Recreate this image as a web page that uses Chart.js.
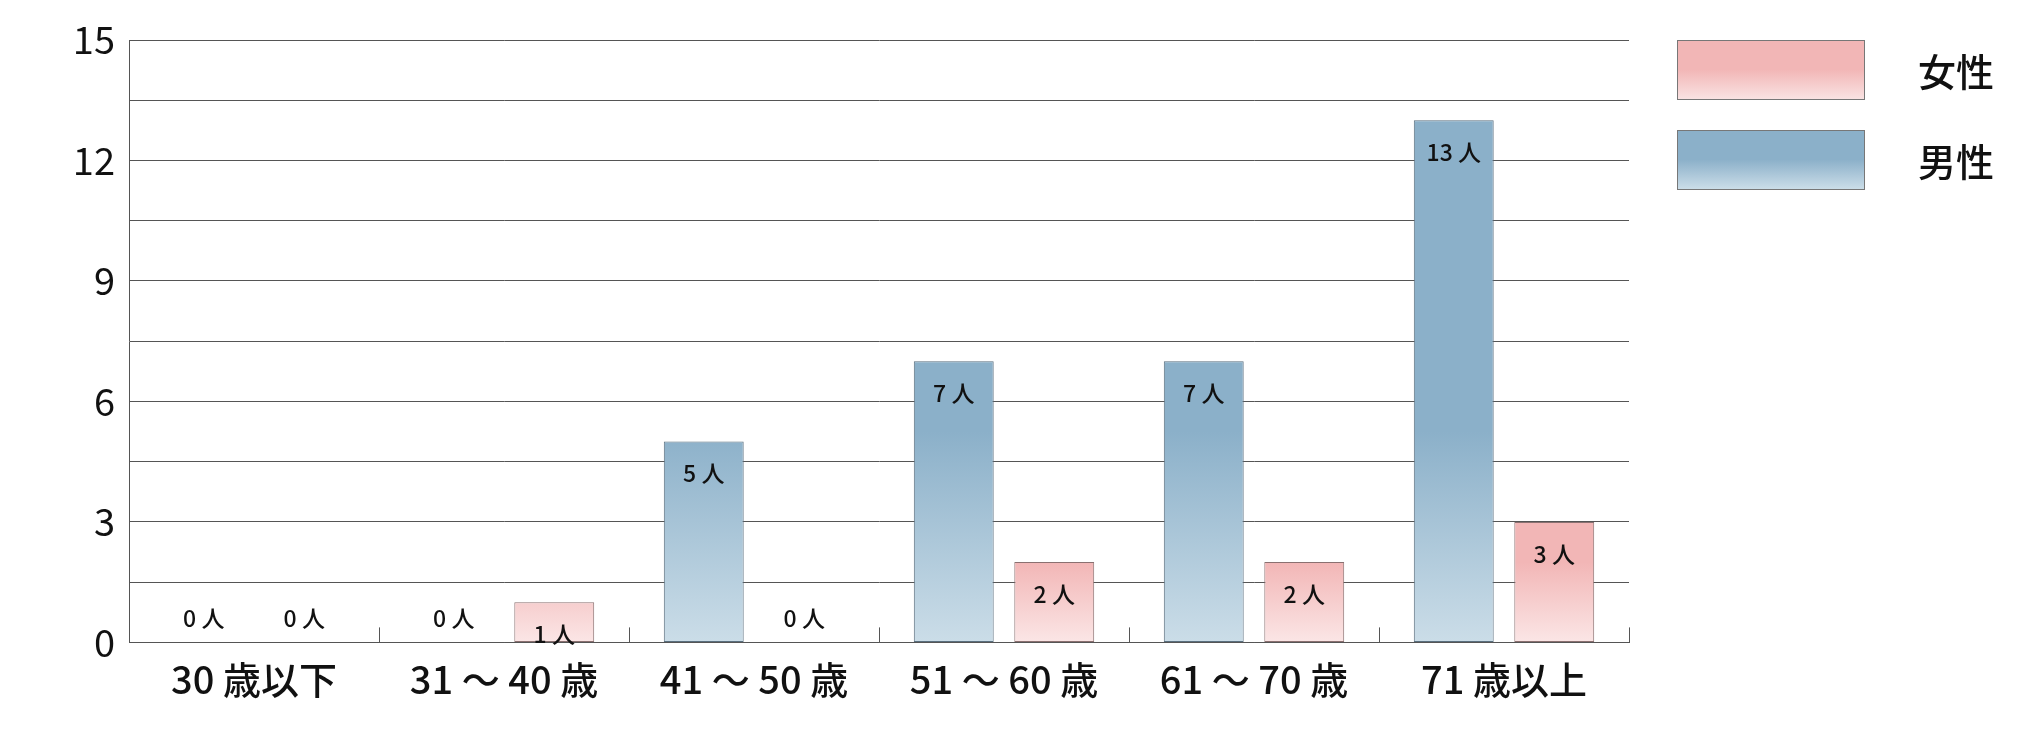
<!DOCTYPE html>
<html><head><meta charset="utf-8">
<script src="https://cdn.jsdelivr.net/npm/chart.js@4"></script>
<style>html,body{margin:0;background:#fff}#w{width:2020px;height:730px}</style></head>
<body><div id="w"><canvas id="c"></canvas></div>
<script>
const categories = ['30 歳以下','31 ～ 40 歳','41 ～ 50 歳','51 ～ 60 歳','61 ～ 70 歳','71 歳以上'];
const male = [0,0,5,7,7,13];
const female = [0,1,0,2,2,3];
const seriesNames = ['男性','女性'];
const yTicks = [0,3,6,9,12,15];
const FONT = '"Noto Sans CJK JP", "Noto Sans", sans-serif';

function grad(ctx, area, top, bottom){
  const g = ctx.createLinearGradient(0, area.top, 0, area.bottom);
  g.addColorStop(0, top); g.addColorStop(0.65, top); g.addColorStop(1, bottom);
  return g;
}
const overlay = {
  id:'overlay',
  afterDatasetsDraw(chart){
    const {ctx, chartArea:a, scales:{x}} = chart;
    ctx.save();
    ctx.strokeStyle='#555'; ctx.lineWidth=1;
    for(let i=1;i<categories.length;i++){
      const px = Math.round((x.getPixelForValue(i-1)+x.getPixelForValue(i))/2)+0.5;
      ctx.beginPath(); ctx.moveTo(px,a.bottom-15); ctx.lineTo(px,a.bottom); ctx.stroke();
    }
    const px = Math.round(a.right)+0.5;
    ctx.beginPath(); ctx.moveTo(px,a.bottom-15); ctx.lineTo(px,a.bottom); ctx.stroke();
    ctx.fillStyle='#111'; ctx.font='500 23px '+FONT; ctx.textAlign='center'; ctx.textBaseline='middle';
    chart.data.datasets.forEach((ds,di)=>{
      chart.getDatasetMeta(di).data.forEach((bar,i)=>{
        const v = ds.data[i];
        const y = v===0 ? a.bottom-24 : bar.y+32;
        ctx.fillText(v+' 人', bar.x, y);
      });
    });
    const items=[{n:seriesNames[1],t:'#f2b6b6',b:'#f9e2e2'},{n:seriesNames[0],t:'#8bb0c9',b:'#cbdde8'}];
    items.forEach((it,k)=>{
      const y0=40+k*90, x0=1677, w=187, h=59;
      const g=ctx.createLinearGradient(0,y0,0,y0+h);
      g.addColorStop(0,it.t); g.addColorStop(0.5,it.t); g.addColorStop(1,it.b);
      ctx.fillStyle=g; ctx.fillRect(x0,y0,w,h);
      ctx.strokeStyle='#777'; ctx.strokeRect(x0+0.5,y0+0.5,w,h);
      ctx.fillStyle='#111'; ctx.font='500 38px '+FONT; ctx.textAlign='left';
      ctx.fillText(it.n, 1918, y0+h/2+2);
    });
    ctx.restore();
  }
};
new Chart(document.getElementById('c'),{
  type:'bar',
  data:{labels:categories,datasets:[
    {label:seriesNames[0],data:male,borderColor:'#5a6f7e',borderWidth:1,borderSkipped:false,
     backgroundColor:c=>c.chart.chartArea?grad(c.chart.ctx,c.chart.chartArea,'#8bb0c9','#cbdde8'):'#8bb0c9'},
    {label:seriesNames[1],data:female,borderColor:'#8a7070',borderWidth:1,borderSkipped:false,
     backgroundColor:c=>{const a=c.chart.chartArea; if(!a) return '#f2b6b6';
       const g=c.chart.ctx.createLinearGradient(0,a.bottom-80,0,a.bottom); g.addColorStop(0,'#f2b6b6'); g.addColorStop(1,'#fbe6e6'); return g;}}
  ]},
  options:{responsive:true,maintainAspectRatio:false,animation:false,
    layout:{padding:{left:0,right:391,top:40,bottom:22}},
    plugins:{legend:{display:false},tooltip:{enabled:false}},
    datasets:{bar:{categoryPercentage:0.804,barPercentage:0.795}},
    scales:{
      x:{grid:{display:false},border:{color:'#555'},
         ticks:{color:'#111',font:{family:FONT,size:38,weight:'500'},padding:6}},
      y:{min:0,max:15,afterFit(s){s.width=129;},
         ticks:{stepSize:1.5,autoSkip:false,color:'#111',font:{family:FONT,size:38},padding:14,
           callback:v=>yTicks.includes(v)?String(v):''},
         grid:{color:'#555',drawTicks:false},border:{color:'#555'}}
    }
  },
  plugins:[overlay]
});
</script></body></html>
